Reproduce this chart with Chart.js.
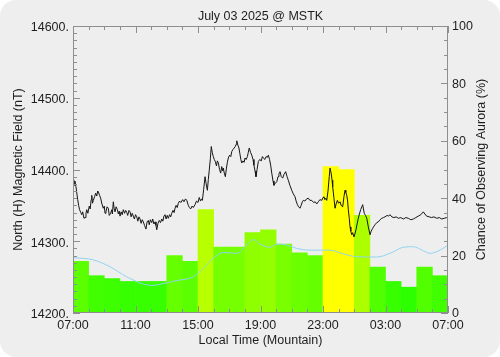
<!DOCTYPE html>
<html>
<head>
<meta charset="utf-8">
<script src="https://cdn.jsdelivr.net/npm/chart.js@4/dist/chart.umd.min.js"></script>
<style>
  html, body { margin: 0; padding: 0; background: #ffffff; }
  #wrap { width: 500px; height: 357px; background: #eeeeee; border-radius: 16px; overflow: hidden; }
  canvas { display: block; }
</style>
</head>
<body>
<div id="wrap"><canvas id="c" width="500" height="357"></canvas></div>
<script>
// ---- data ----
const chartTitle = "July 03 2025 @ MSTK";
const timeTickLabels = ["07:00", "11:00", "15:00", "19:00", "23:00", "03:00", "07:00"];
const fieldTickLabels = ["14200.", "14300.", "14400.", "14500.", "14600."];
const chanceTickLabels = ["0", "20", "40", "60", "80", "100"];

// hourly chance of observing aurora (%), 07:00 -> 07:00
const auroraChance = [18, 13, 12, 11, 11, 11, 20, 18, 36, 23, 23, 28, 29, 24, 21, 20, 51, 50, 34, 16, 11, 9, 16, 13];

// magnetometer north (H) component, hours since 07:00
const magHours = [
  0.00, 0.04, 0.08, 0.12, 0.19, 0.25, 0.30, 0.36, 0.42, 0.50, 0.56, 0.62, 0.70, 0.77, 0.83, 0.88, 0.95,
  1.04, 1.10, 1.16, 1.20, 1.25, 1.30, 1.38, 1.45, 1.52, 1.58, 1.62, 1.70, 1.77, 1.85, 1.94,
  2.00, 2.05, 2.11, 2.18, 2.26, 2.32, 2.41, 2.48, 2.52, 2.58, 2.63, 2.69, 2.76, 2.84, 2.90, 2.96,
  3.01, 3.08, 3.15, 3.22, 3.30, 3.37, 3.44, 3.50, 3.58, 3.65, 3.72, 3.79, 3.86, 3.93,
  4.00, 4.08, 4.15, 4.22, 4.29, 4.36, 4.43, 4.50, 4.58, 4.67, 4.74, 4.82, 4.88, 4.95,
  5.04, 5.10, 5.18, 5.25, 5.31, 5.36, 5.44, 5.52, 5.60, 5.68, 5.75, 5.82, 5.89, 5.96,
  6.03, 6.10, 6.18, 6.25, 6.32, 6.40, 6.47, 6.53, 6.60, 6.67, 6.74, 6.82, 6.90,
  7.02, 7.10, 7.20, 7.28, 7.38, 7.45, 7.53, 7.62, 7.70, 7.81, 7.90,
  8.00, 8.08, 8.16, 8.22, 8.28, 8.36, 8.45, 8.52, 8.60, 8.66, 8.72, 8.79, 8.85, 8.91, 8.98,
  9.04, 9.11, 9.18, 9.24, 9.30, 9.38, 9.45, 9.52, 9.58, 9.62, 9.68, 9.75, 9.82, 9.88, 9.94,
  10.02, 10.10, 10.16, 10.24, 10.32, 10.38, 10.44, 10.48, 10.55, 10.62, 10.68, 10.74, 10.80, 10.88, 10.95,
  11.01, 11.08, 11.16, 11.22, 11.28, 11.36, 11.44, 11.52, 11.58, 11.65, 11.71, 11.78, 11.86, 11.95,
  12.05, 12.12, 12.18, 12.28, 12.36, 12.44, 12.50, 12.58, 12.65, 12.72, 12.80, 12.86, 12.95,
  13.04, 13.12, 13.18, 13.25, 13.33, 13.42, 13.50, 13.61, 13.70, 13.78, 13.88,
  14.00, 14.10, 14.21, 14.28, 14.36, 14.44, 14.53, 14.60, 14.68, 14.74, 14.84, 14.95,
  15.06, 15.16, 15.28, 15.40, 15.50, 15.60, 15.70, 15.80, 15.92,
  16.00, 16.06, 16.12, 16.18, 16.24, 16.32, 16.40, 16.45, 16.52, 16.58, 16.62, 16.70, 16.77, 16.84, 16.92,
  17.00, 17.09, 17.16, 17.26, 17.34, 17.41, 17.46, 17.52, 17.58, 17.62, 17.68, 17.73, 17.78, 17.84, 17.90, 17.98,
  18.04, 18.11, 18.18, 18.26, 18.33, 18.41, 18.48, 18.54, 18.59, 18.64, 18.72, 18.80, 18.90,
  19.01, 19.08, 19.18, 19.26, 19.33, 19.44, 19.54, 19.65, 19.76, 19.87, 19.97,
  20.10, 20.20, 20.29, 20.40, 20.54, 20.68, 20.82, 20.98,
  21.14, 21.30, 21.46, 21.62, 21.78, 21.94,
  22.10, 22.26, 22.42, 22.52, 22.63, 22.80, 22.95,
  23.10, 23.28, 23.44, 23.60, 23.76, 23.92, 24.00
];
const magValues = [
  14380, 14386, 14378, 14384, 14376, 14366, 14358, 14350, 14344, 14340, 14337, 14341, 14332, 14333, 14339, 14344, 14339,
  14349, 14345, 14358, 14364, 14353, 14357, 14362, 14367, 14363, 14370, 14369, 14364, 14360, 14352, 14346,
  14349, 14339, 14341, 14348, 14346, 14336, 14339, 14344, 14338, 14355, 14346, 14341, 14348, 14344, 14338, 14342,
  14335, 14341, 14337, 14344, 14339, 14343, 14340, 14336, 14343, 14341, 14334, 14339, 14335, 14331,
  14337, 14334, 14328, 14334, 14331, 14325, 14330, 14327, 14322, 14317, 14327, 14329, 14323, 14330,
  14326, 14331, 14324, 14327, 14322, 14316, 14325, 14329, 14326, 14331, 14328, 14335, 14337, 14331,
  14336, 14332, 14337, 14334, 14339, 14343, 14340, 14346, 14350, 14347, 14353, 14356, 14354,
  14358, 14355, 14359, 14357, 14350, 14347, 14345, 14349, 14347, 14351, 14356,
  14354, 14361, 14356, 14359, 14357, 14372, 14390, 14380, 14371, 14386, 14399, 14415, 14432, 14424, 14418,
  14414, 14411, 14405, 14412, 14409, 14400, 14395, 14404, 14398, 14402, 14395, 14390, 14402, 14410, 14416,
  14420, 14418, 14425, 14428, 14430, 14432, 14435, 14440, 14434, 14430, 14422, 14414, 14409, 14412, 14410,
  14416, 14414, 14418, 14424, 14430, 14424, 14420, 14414, 14406, 14398, 14390, 14400, 14411, 14414,
  14412, 14418, 14416, 14414, 14418, 14417, 14420, 14414, 14406, 14395, 14384, 14378, 14381,
  14383, 14390, 14394, 14397, 14390, 14388, 14393, 14397, 14390, 14385, 14378,
  14371, 14366, 14362, 14356, 14351, 14348, 14346, 14350, 14355, 14357, 14356, 14359,
  14360, 14357, 14357, 14354, 14355, 14352, 14355, 14358, 14357,
  14361, 14362, 14358, 14360, 14357, 14370, 14390, 14402, 14395, 14385, 14376, 14360, 14346, 14352, 14357,
  14353, 14355, 14350, 14348, 14362, 14371, 14368, 14364, 14355, 14344, 14332, 14320, 14314, 14309, 14312, 14306,
  14310, 14316, 14324, 14332, 14338, 14344, 14348, 14351, 14345, 14339, 14336, 14332, 14320,
  14309, 14314, 14318, 14321, 14323, 14326, 14327, 14330, 14332, 14333, 14334,
  14336, 14335, 14337, 14334, 14333, 14334, 14332, 14333,
  14331, 14333, 14332, 14330, 14331, 14333,
  14335, 14337, 14341, 14338, 14335, 14334, 14333,
  14334, 14332, 14333, 14331, 14332, 14333, 14333
];

// smooth forecast curve (%), hours since 07:00
const forecastHours = [0.00, 1.30, 2.37, 3.44, 4.50, 5.04, 5.57, 6.64, 7.70, 8.34, 8.98, 9.62, 10.48, 11.12, 11.54, 11.97, 12.61, 13.04, 13.68, 14.32, 15.17, 16.45, 17.30, 18.16, 19.44, 20.29, 21.14, 21.78, 22.42, 22.85, 23.49, 24.00];
const forecastValues = [19.3, 18.5, 16.1, 12.6, 10.1, 9.6, 10.0, 11.3, 12.6, 15.6, 19.1, 21.1, 20.8, 23.7, 25.6, 24.0, 22.9, 24.0, 23.7, 22.5, 21.9, 21.9, 20.6, 19.6, 19.5, 20.8, 22.9, 23.1, 21.7, 20.8, 21.9, 23.7];

// ---- build ----
function chanceColor(v) {
  const hue = Math.max(60, 120 - 60 * v / 50);
  return 'hsl(' + hue.toFixed(1) + ',100%,50%)';
}
const barData = auroraChance.map((v, i) => ({ x: i + 0.5, y: v }));
const magData = magHours.map((h, i) => ({ x: h, y: magValues[i] }));
const fcData = forecastHours.map((h, i) => ({ x: h, y: forecastValues[i] }));

const FONT = { family: "'Liberation Sans', Arial, sans-serif", size: 12.5, lineHeight: 1.2 };
const TEXT = '#1e1e1e';
const AXIS = '#8e8e8e';

const frameTicks = {
  id: 'frameTicks',
  afterDatasetsDraw(chart) {
    const { ctx, chartArea: a, scales } = chart;
    ctx.save();
    ctx.strokeStyle = AXIS;
    ctx.lineWidth = 1;
    ctx.beginPath();
    for (let v = 14200; v <= 14600; v += 10) {
      const p = Math.round(scales.y.getPixelForValue(v)) + 0.5;
      const len = (v % 100 === 0) ? 7 : 4;
      ctx.moveTo(a.left, p); ctx.lineTo(a.left + len, p);
    }
    for (let v = 0; v <= 100; v += 5) {
      const p = Math.round(scales.y2.getPixelForValue(v)) + 0.5;
      const len = (v % 20 === 0) ? 7 : 4;
      ctx.moveTo(a.right, p); ctx.lineTo(a.right - len, p);
    }
    for (let h = 0; h <= 24; h += 1) {
      const p = Math.round(scales.x.getPixelForValue(h)) + 0.5;
      const len = (h % 4 === 0) ? 7 : 4;
      ctx.moveTo(p, a.bottom); ctx.lineTo(p, a.bottom - len);
      ctx.moveTo(p, a.top); ctx.lineTo(p, a.top + len);
    }
    ctx.stroke();
    ctx.strokeRect(a.left + 0.5, a.top + 0.5, a.right - a.left - 1, a.bottom - a.top - 1);
    ctx.restore();
  },
  afterDraw(chart) {
    const { ctx, chartArea: a } = chart;
    ctx.save();
    ctx.fillStyle = TEXT;
    ctx.font = FONT.size + 'px ' + FONT.family;
    ctx.textAlign = 'center';
    ctx.textBaseline = 'middle';
    ctx.translate(482, (a.top + a.bottom) / 2);
    ctx.rotate(-Math.PI / 2);
    ctx.fillText('Chance of Observing Aurora (%)', 0, 0);
    ctx.restore();
  }
};

new Chart(document.getElementById('c'), {
  type: 'bar',
  data: {
    datasets: [
      { type: 'line', label: 'H', data: magData, yAxisID: 'y', xAxisID: 'x', borderColor: '#151515', borderWidth: 1, pointRadius: 0, tension: 0, order: 0 },
      { type: 'line', label: 'forecast', data: fcData, yAxisID: 'y2', xAxisID: 'x', borderColor: '#8fd4f0', borderWidth: 1, pointRadius: 0, cubicInterpolationMode: 'monotone', order: 1 },
      { type: 'bar', label: 'chance', data: barData, yAxisID: 'y2', xAxisID: 'x', backgroundColor: auroraChance.map(chanceColor), borderWidth: 0, barPercentage: 1, categoryPercentage: 1, order: 2 }
    ]
  },
  options: {
    responsive: false,
    animation: false,
    devicePixelRatio: 1,
    layout: { padding: 0 },
    plugins: {
      legend: { display: false },
      tooltip: { enabled: false },
      title: {
        display: true, text: chartTitle, fullSize: false, color: TEXT,
        font: { ...FONT, weight: 'normal' },
        padding: { top: 9.2, bottom: 1.8 }
      }
    },
    scales: {
      x: {
        type: 'linear', position: 'bottom', min: 0, max: 24, offset: false,
        grid: { display: false, drawTicks: false, offset: false },
        border: { display: false },
        ticks: {
          stepSize: 4, autoSkip: false, maxRotation: 0, padding: 5.5, color: TEXT, font: FONT,
          callback: (v, i) => timeTickLabels[i]
        },
        title: { display: true, text: 'Local Time (Mountain)', color: TEXT, font: FONT, padding: { top: 0, bottom: 8.5 } },
        afterFit: (s) => { s.height = 44; }
      },
      y: {
        type: 'linear', position: 'left', min: 14200, max: 14600,
        grid: { display: false, drawTicks: false },
        border: { display: false },
        ticks: {
          stepSize: 100, padding: 4, color: TEXT, font: FONT, labelOffset: 2,
          callback: (v, i) => fieldTickLabels[i]
        },
        title: { display: true, text: 'North (H) Magnetic Field (nT)', color: TEXT, font: FONT, padding: { top: 11, bottom: 0 } },
        afterFit: (s) => { s.width = 73; }
      },
      y2: {
        type: 'linear', position: 'right', min: 0, max: 100,
        grid: { display: false, drawTicks: false },
        border: { display: false },
        ticks: {
          stepSize: 20, padding: 4, color: TEXT, font: FONT, labelOffset: 1,
          callback: (v, i) => chanceTickLabels[i]
        },
        afterFit: (s) => { s.width = 52; }
      }
    }
  },
  plugins: [frameTicks]
});
</script>
</body>
</html>
